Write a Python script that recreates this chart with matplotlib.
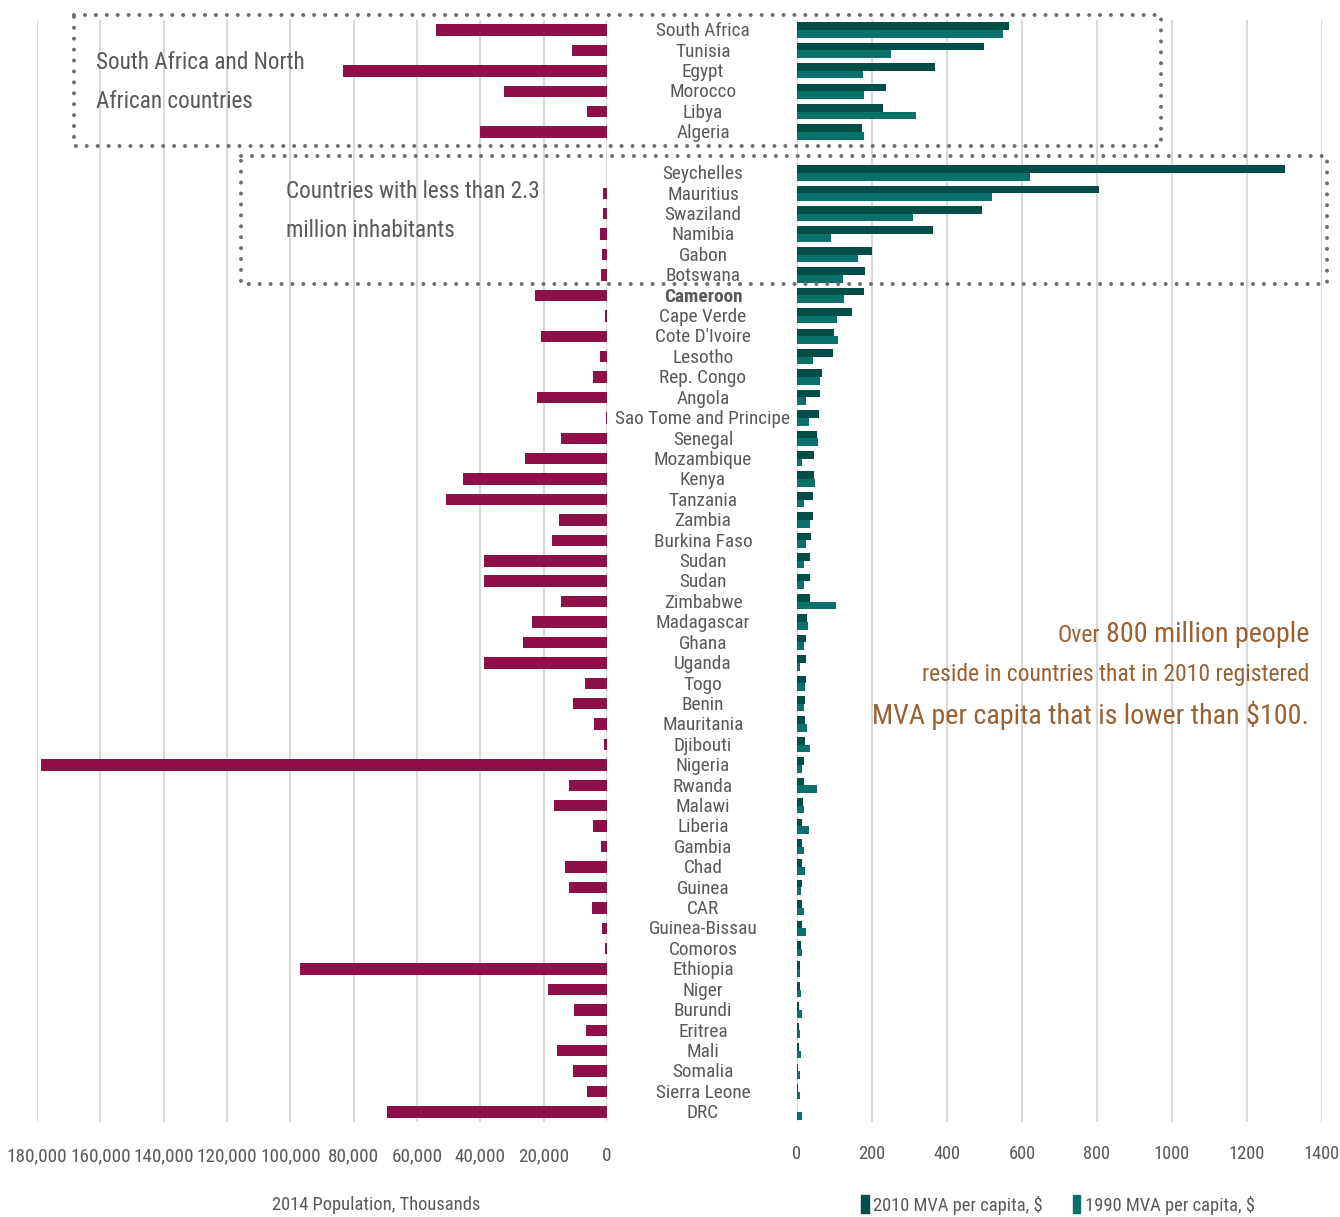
import os
import matplotlib
matplotlib.use("Agg")
import matplotlib.pyplot as plt
from matplotlib import font_manager as fm
from matplotlib.font_manager import FontProperties
from matplotlib.textpath import TextPath
from matplotlib.patches import Patch
from matplotlib.lines import Line2D
from matplotlib.transforms import blended_transform_factory
from matplotlib.ticker import FuncFormatter

countries = ["South Africa", "Tunisia", "Egypt", "Morocco", "Libya", "Algeria",
             "Seychelles", "Mauritius", "Swaziland", "Namibia", "Gabon", "Botswana",
             "Cameroon", "Cape Verde", "Cote D'Ivoire", "Lesotho", "Rep. Congo", "Angola",
             "Sao Tome and Principe", "Senegal", "Mozambique", "Kenya", "Tanzania", "Zambia",
             "Burkina Faso", "Sudan", "Sudan", "Zimbabwe", "Madagascar", "Ghana", "Uganda",
             "Togo", "Benin", "Mauritania", "Djibouti", "Nigeria", "Rwanda", "Malawi",
             "Liberia", "Gambia", "Chad", "Guinea", "CAR", "Guinea-Bissau", "Comoros",
             "Ethiopia", "Niger", "Burundi", "Eritrea", "Mali", "Somalia", "Sierra Leone", "DRC"]

population_2014 = [54100, 11000, 83500, 32600, 6300, 40200,
                   90, 1260, 1270, 2300, 1700, 2000,
                   22800, 500, 20900, 2100, 4500, 22100,
                   190, 14500, 25900, 45500, 50900, 15200,
                   17400, 38900, 38900, 14500, 23700, 26600, 38900,
                   7000, 10800, 4000, 900, 178800, 12000, 16800,
                   4400, 1900, 13300, 12000, 4700, 1700, 750,
                   96800, 18700, 10400, 6500, 15800, 10800, 6300, 69600]

mva_2010 = [566, 500, 369, 238, 230, 174,
            1301, 804, 494, 363, 200, 182,
            179, 147, 99, 96, 67, 61,
            59, 53, 45, 45, 43, 43,
            37, 35, 35, 35, 27, 24, 24,
            24, 21, 21, 21, 19, 19, 16,
            13, 13, 13, 13, 13, 13, 11,
            8, 8, 5, 5, 5, 3, 3, 1]

mva_1990 = [550, 251, 176, 179, 318, 179,
            622, 521, 310, 91, 163, 123,
            126, 107, 110, 43, 61, 24,
            32, 56, 13, 48, 19, 35,
            24, 19, 19, 104, 29, 19, 8,
            21, 19, 27, 35, 13, 53, 19,
            32, 19, 21, 11, 19, 24, 13,
            8, 11, 13, 8, 11, 8, 8, 13]

pop_ticks = list(range(0, 180001, 20000))
mva_ticks = list(range(0, 1401, 200))

MAGENTA = "#8d1048"
C2010 = "#034f48"
C1990 = "#0a716a"
GRID = "#d9d9d9"
TXT = "#595959"
BROWN = "#9a6233"
DOTS = "#6e6e6e"

# ---- pick a narrow font if one is installed ----
def pick_font():
    files = {}
    for f in fm.fontManager.ttflist:
        files.setdefault(os.path.basename(f.fname).lower(), f.fname)
    prefs = [("liberationsansnarrow-regular", "liberationsansnarrow-bold"),
             ("robotocondensed-regular", "robotocondensed-bold"),
             ("roboto_condensed-regular", "roboto_condensed-bold"),
             ("notosans-condensed.", "notosans-condensedbold"),
             ("opensans-condensedlight", "opensans-condensedbold"),
             ("dejavusanscondensed.", "dejavusanscondensed-bold")]
    for reg, bold in prefs:
        r = sorted(v for k, v in files.items() if k.startswith(reg))
        if r:
            b = sorted(v for k, v in files.items() if k.startswith(bold))
            return r[0], (b[0] if b else r[0])
    return None, None

REG, BOLD = pick_font()

def fprop(size, bold=False):
    if REG is None:
        return FontProperties(family="DejaVu Sans", size=size,
                              weight="bold" if bold else "normal")
    return FontProperties(fname=BOLD if bold else REG, size=size)

def fit(s, target_px, bold=False):
    w = TextPath((0, 0), s, size=10, prop=fprop(10, bold)).get_extents().width
    return target_px * 72 / 100 * 10 / w

W, H = 1340, 1217
fig = plt.figure(figsize=(W / 100, H / 100), dpi=100)

def fx(px):
    return px / W

def fy(py):
    return 1 - py / H

top_px, bot_px = 19.8, 1122.2
ax_b = fy(bot_px)
ax_h = (bot_px - top_px) / H
axL = fig.add_axes([fx(37), ax_b, fx(607) - fx(37), ax_h])
axR = fig.add_axes([fx(797), ax_b, fx(1322) - fx(797), ax_h])

n = len(countries)
ypos = [i + (1 if i >= 6 else 0) for i in range(n)]
ylim = (max(ypos) + 0.5, -0.5)

# Left: population
axL.barh(ypos, population_2014, height=0.56, color=MAGENTA, zorder=3)
axL.set_xlim(180000, 0)
axL.set_ylim(*ylim)
axL.set_xticks(pop_ticks)
axL.xaxis.set_major_formatter(FuncFormatter(lambda v, p: f"{int(v):,}"))

# Right: MVA per capita
bh = 0.375
axR.barh([y - bh / 2 for y in ypos], mva_2010, height=bh, color=C2010, zorder=3)
axR.barh([y + bh / 2 for y in ypos], mva_1990, height=bh, color=C1990, zorder=3)
axR.set_xlim(0, 1400)
axR.set_ylim(*ylim)
axR.set_xticks(mva_ticks)

tick_size_L = fit("180,000", 58)
tick_size_R = fit("1400", 34)
for ax, ts, yc in ((axL, tick_size_L, 1157), (axR, tick_size_R, 1154)):
    for s in ax.spines.values():
        s.set_visible(False)
    ax.set_yticks([])
    ax.grid(axis='x', color=GRID, lw=1.5, zorder=0)
    ax.set_axisbelow(True)
    pad_px = yc - bot_px - ts * 100 / 72 * 0.5
    ax.tick_params(axis='x', length=0, pad=pad_px * 0.72, labelcolor=TXT)
    for lab in ax.get_xticklabels():
        lab.set_fontproperties(fprop(ts))
    ax.patch.set_alpha(0)

# Country labels in the middle
lab_size = fit("Sao Tome and Principe", 174)
tr = blended_transform_factory(fig.transFigure, axR.transData)
for name, y in zip(countries, ypos):
    bold = name == "Cameroon"
    axR.text(fx(703), y + 0.06, name, transform=tr, ha='center', va='center',
             fontproperties=fprop(lab_size, bold), color=TXT, clip_on=False)

# Dotted boxes
def dotted_box(x0, y0, x1, y1):
    xs = [fx(x0), fx(x1), fx(x1), fx(x0), fx(x0)]
    ys = [fy(y0), fy(y0), fy(y1), fy(y1), fy(y0)]
    ln = Line2D(xs, ys, transform=fig.transFigure, color=DOTS, lw=2.9,
                ls=(0, (0.01, 2.7)), dash_capstyle='round', solid_capstyle='round', zorder=10)
    fig.add_artist(ln)

dotted_box(74, 15, 1161, 146)
dotted_box(241, 156, 1327, 284)

box_size = fit("South Africa and North", 206)
fig.text(fx(96), fy(82), "South Africa and North\nAfrican countries", ha='left', va='center',
         fontproperties=fprop(box_size), color=TXT, linespacing=1.85)
fig.text(fx(286), fy(211), "Countries with less than 2.3\nmillion inhabitants", ha='left', va='center',
         fontproperties=fprop(box_size), color=TXT, linespacing=1.85)

# Annotation
big = fit("MVA per capita that is lower than $100.", 432)
small = fit("reside in countries that in 2010 registered", 385)
t1 = fig.text(fx(1309), fy(634), "800 million people", ha='right', va='center',
              fontproperties=fprop(big), color=BROWN)
fig.canvas.draw()
bb = t1.get_window_extent(fig.canvas.get_renderer())
fig.text((bb.x0 - 6) / W, fy(636), "Over", ha='right', va='center',
         fontproperties=fprop(small), color=BROWN)
fig.text(fx(1309), fy(675), "reside in countries that in 2010 registered", ha='right', va='center',
         fontproperties=fprop(small), color=BROWN)
fig.text(fx(1309), fy(716), "MVA per capita that is lower than $100.", ha='right', va='center',
         fontproperties=fprop(big), color=BROWN)

# Axis title and legend
leg_size = fit("2010 MVA per capita, $", 168)
fig.text(fx(376), fy(1205), "2014 Population, Thousands", ha='center', va='center',
         fontproperties=fprop(leg_size), color=TXT)
fig.legend(handles=[Patch(color=C2010), Patch(color=C1990)],
           labels=["2010 MVA per capita, $", "1990 MVA per capita, $"],
           loc='center', bbox_to_anchor=(fx(1058), fy(1205)), ncol=2, frameon=False,
           handlelength=0.4, handleheight=1.1, handletextpad=0.25, columnspacing=1.6,
           prop=fprop(leg_size), labelcolor=TXT)

fig.savefig("out.png", dpi=100)
